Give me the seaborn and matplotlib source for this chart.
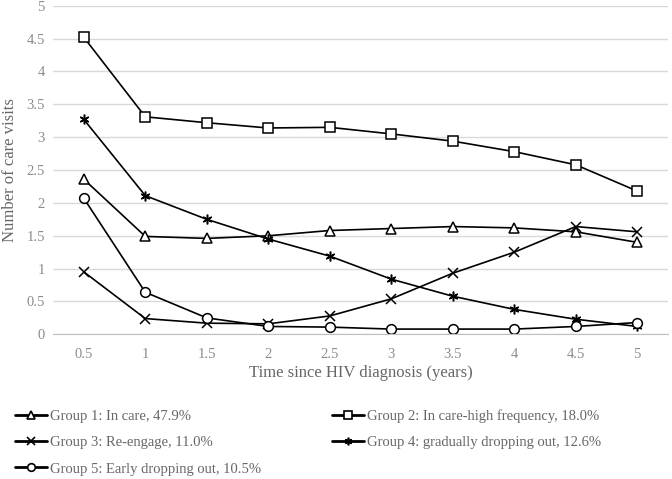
import pandas as pd
import matplotlib.pyplot as plt
from matplotlib.lines import Line2D
import seaborn as sns

years = ['0.5', '1', '1.5', '2', '2.5', '3', '3.5', '4', '4.5', '5']
group_names = ['Group 1: In care, 47.9%',
               'Group 2: In care-high frequency, 18.0%',
               'Group 3: Re-engage, 11.0%',
               'Group 4: gradually dropping out, 12.6%',
               'Group 5: Early dropping out, 10.5%']
g1 = [2.36, 1.49, 1.46, 1.50, 1.58, 1.61, 1.64, 1.62, 1.56, 1.40]
g2 = [4.52, 3.31, 3.22, 3.14, 3.15, 3.05, 2.94, 2.78, 2.58, 2.18]
g3 = [0.95, 0.24, 0.17, 0.16, 0.28, 0.54, 0.93, 1.25, 1.64, 1.56]
g4 = [3.27, 2.11, 1.75, 1.45, 1.19, 0.84, 0.58, 0.38, 0.23, 0.12]
g5 = [2.07, 0.64, 0.25, 0.12, 0.11, 0.08, 0.08, 0.08, 0.12, 0.18]
group_markers = ['^', 's', 'x', (6, 2, 0), 'o']

rows = []
for name, vals in zip(group_names, [g1, g2, g3, g4, g5]):
    for yr, v in zip(years, vals):
        rows.append([yr, v, name])
df = pd.DataFrame(rows, columns=['year', 'visits', 'group'])

sns.set_style('white')
plt.rcParams['font.family'] = ['Liberation Serif', 'DejaVu Serif']

fig = plt.figure(figsize=(6.72, 4.79), dpi=100)
ax = fig.add_axes([0.079, 0.302, 0.915, 0.686])

for name, mk in zip(group_names, group_markers):
    sub = df[df['group'] == name]
    sns.lineplot(data=sub, x='year', y='visits', marker=mk, color='black',
                 markersize=7, markerfacecolor='white', markeredgecolor='black',
                 markeredgewidth=1.1, linewidth=1.2, ax=ax, sort=False, legend=False)

ax.set_ylim(0, 5)
ax.set_xlim(-0.5, 9.5)
ax.set_yticks([0, 0.5, 1, 1.5, 2, 2.5, 3, 3.5, 4, 4.5, 5])
ax.set_yticklabels(['0', '0.5', '1', '1.5', '2', '2.5', '3', '3.5', '4', '4.5', '5'])
ax.yaxis.grid(True, color='#d9d9d9', linewidth=1)
ax.set_axisbelow(True)
for s in ['top', 'right', 'left']:
    ax.spines[s].set_visible(False)
ax.spines['bottom'].set_color('#bfbfbf')
ax.tick_params(axis='both', colors='#8c8c8c', labelsize=10.5, length=0)
ax.tick_params(axis='y', pad=6)
ax.tick_params(axis='x', pad=10)
ax.set_xticks(range(10), minor=False)
ax.set_xticks([i - 0.5 for i in range(11)], minor=True)
ax.tick_params(axis='x', which='minor', length=5, color='#bfbfbf')
ax.set_xlabel('Time since HIV diagnosis (years)', fontsize=12, color='#666666', labelpad=3)
ax.set_ylabel('Number of care visits', fontsize=12, color='#666666', labelpad=6)

handles = {n: Line2D([], [], color='black', linewidth=2, marker=mk, markersize=5.5,
                     markerfacecolor='white', markeredgecolor='black', markeredgewidth=1.2)
           for n, mk in zip(group_names, group_markers)}
order = [group_names[i] for i in [0, 2, 4, 1, 3]]
fig.legend([handles[n] for n in order], order, ncol=2, loc='upper left',
           bbox_to_anchor=(0.022, 0.146), frameon=False, fontsize=10.5,
           handlelength=2.2, handletextpad=0.2, columnspacing=4.9,
           labelspacing=0.9, labelcolor='#666666', borderaxespad=0, borderpad=0)

fig.savefig('out.png', dpi=100)
